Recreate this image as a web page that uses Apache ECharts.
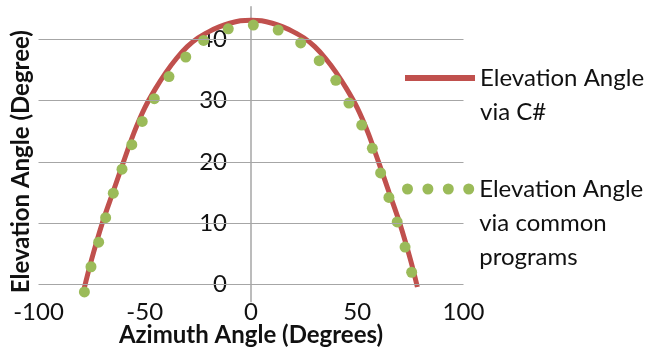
<!DOCTYPE html>
<html>
<head>
<meta charset="utf-8">
<script src="https://cdn.jsdelivr.net/npm/echarts@6/dist/echarts.min.js"></script>
<style>
html,body{margin:0;padding:0;background:#fff;}
#chart{width:646px;height:349px;}
</style>
</head>
<body>
<div id="chart"></div>
<script>
// Red curve: Elevation Angle via C#
const azimuthCSharp = [-78.7, -75, -70, -65, -60, -55, -50, -45, -40, -35, -30, -25, -20, -15, -10, -5, 0, 5, 10, 15, 20, 25, 30, 35, 40, 45, 50, 55, 60, 65, 70, 75, 78.3];
const elevationCSharp = [-0.9, 4.1, 10.0, 15.0, 20.0, 24.8, 28.8, 31.9, 34.6, 36.9, 38.8, 40.2, 41.2, 42.0, 42.6, 43.0, 43.1, 43.0, 42.6, 42.0, 41.2, 40.2, 38.8, 36.9, 34.6, 31.9, 28.8, 24.8, 20.0, 15.0, 10.0, 4.1, -0.4];
// Green dots: Elevation Angle via common programs
const azimuthCommon = [-78.4, -75.3, -71.7, -68.4, -64.8, -60.7, -56.1, -51.2, -45.5, -38.6, -30.7, -22.3, -10.7, 1.1, 12.8, 23.4, 32.1, 39.9, 46.1, 52.1, 57.1, 61.0, 64.9, 68.8, 72.5, 75.6];
const elevationCommon = [-1.2, 2.9, 6.9, 10.9, 14.9, 18.8, 22.8, 26.6, 30.3, 33.9, 37.1, 39.8, 41.7, 42.3, 41.5, 39.4, 36.5, 33.3, 29.6, 26.0, 22.2, 18.2, 14.2, 10.2, 6.1, 2.0];

// Axis ticks
const xTicks = [-100, -50, 0, 50, 100];
const yTicks = [0, 10, 20, 30, 40];

const seriesNames = ['Elevation Angle\nvia C#', 'Elevation Angle\nvia common\nprograms'];
const xAxisTitle = 'Azimuth Angle (Degrees)';
const yAxisTitle = 'Elevation Angle (Degree)';

const RED = '#C0504D';
const GREEN = '#9BBB59';
const GRID = '#a6a6a6';
const FONT = 'Lato';
const FS = 24;
const LH = 34;

// pad the legend text with blank lines so that the icon sits beside the first line
function legendText(name) {
  const n = name.split('\n').length;
  return '\n'.repeat(n - 1) + name;
}

const chart = echarts.init(document.getElementById('chart'), null, {renderer: 'canvas'});
const dotsIcon = 'path://M0,5.5a5.5,5.5 0 1,0 11,0a5.5,5.5 0 1,0 -11,0Z M20.4,5.5a5.5,5.5 0 1,0 11,0a5.5,5.5 0 1,0 -11,0Z M40.8,5.5a5.5,5.5 0 1,0 11,0a5.5,5.5 0 1,0 -11,0Z M61.2,5.5a5.5,5.5 0 1,0 11,0a5.5,5.5 0 1,0 -11,0Z';

const GRID_LEFT = 38.5, GRID_RIGHT = 182.5;
const PLOT_W = 646 - GRID_LEFT - GRID_RIGHT;

chart.setOption({
  animation: false,
  backgroundColor: '#fff',
  textStyle: {fontFamily: FONT},
  grid: {left: GRID_LEFT, right: GRID_RIGHT, top: 6.7, bottom: 47.3, containLabel: false, outerBoundsMode: 'none'},
  legend: [
    {
      left: 400, top: 22, padding: 5, orient: 'vertical',
      itemWidth: 70, itemHeight: 6,
      formatter: legendText,
      data: [{name: seriesNames[0], icon: 'rect', itemStyle: {color: RED}}],
      textStyle: {fontFamily: FONT, fontSize: FS, color: '#111', lineHeight: LH},
      selectedMode: false
    },
    {
      left: 397, top: 99, padding: 5, orient: 'vertical',
      itemWidth: 72.2, itemHeight: 11,
      formatter: legendText,
      data: [{name: seriesNames[1], icon: dotsIcon, itemStyle: {color: GREEN}}],
      textStyle: {fontFamily: FONT, fontSize: FS, color: '#111', lineHeight: LH},
      selectedMode: false
    }
  ],
  xAxis: {
    type: 'value', min: xTicks[0], max: xTicks[xTicks.length - 1], interval: xTicks[1] - xTicks[0],
    axisLine: {show: false, onZero: false},
    axisTick: {show: false},
    splitLine: {show: false},
    axisLabel: {fontSize: FS, color: '#111', margin: -1, fontFamily: FONT},
    name: xAxisTitle, nameLocation: 'middle', nameGap: 22, nameMoveOverlap: false,
    nameTextStyle: {fontSize: FS, fontWeight: 'bold', color: '#111', fontFamily: FONT}
  },
  yAxis: {
    type: 'value', min: -2.8, max: 45.3, splitNumber: 5,
    position: 'left',
    // the vertical axis crosses the horizontal axis at azimuth 0 (centre of the plot)
    offset: -PLOT_W / 2,
    axisLine: {show: true, onZero: false, lineStyle: {color: GRID, width: 1.5}},
    axisTick: {show: false},
    splitLine: {show: false},
    axisLabel: {
      fontSize: FS, color: '#111', margin: 24, fontFamily: FONT,
      showMinLabel: false, showMaxLabel: false,
      formatter: function (v) { return yTicks.indexOf(Math.round(v * 1000) / 1000) >= 0 ? String(v) : ''; }
    },
    name: yAxisTitle, nameLocation: 'middle', nameGap: 218, nameRotate: 90, nameMoveOverlap: false,
    nameTextStyle: {fontSize: FS, fontWeight: 'bold', color: '#111', fontFamily: FONT, padding: [0, 15, 0, 0]}
  },
  series: [
    {
      // horizontal gridlines at the y ticks
      name: 'gridlines', type: 'line', data: [], z: 1, silent: true,
      markLine: {
        silent: true, symbol: 'none', animation: false,
        label: {show: false},
        lineStyle: {color: GRID, width: 1, type: 'solid'},
        emphasis: {disabled: true},
        data: yTicks.map(v => ({yAxis: v}))
      }
    },
    {
      name: seriesNames[0], type: 'line', smooth: 0.3, showSymbol: false,
      lineStyle: {color: RED, width: 5}, itemStyle: {color: RED},
      data: azimuthCSharp.map((x, i) => [x, elevationCSharp[i]]),
      z: 2
    },
    {
      name: seriesNames[1], type: 'scatter', symbol: 'circle', symbolSize: 11,
      itemStyle: {color: GREEN, opacity: 1},
      data: azimuthCommon.map((x, i) => [x, elevationCommon[i]]),
      z: 3
    }
  ]
});
</script>
</body>
</html>
